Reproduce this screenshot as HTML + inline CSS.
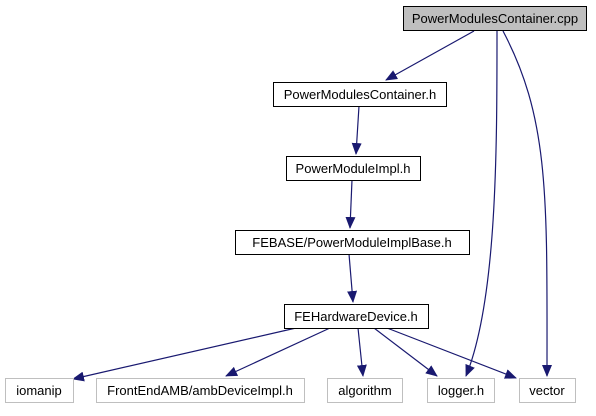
<!DOCTYPE html>
<html><head><style>
body{margin:0;background:#fff;width:596px;height:411px;overflow:hidden;font-family:"Liberation Sans",sans-serif}
</style></head><body>
<svg width="596" height="411" xmlns="http://www.w3.org/2000/svg" font-family="Liberation Sans, sans-serif" font-size="13">
<defs><marker id="a" markerWidth="12" markerHeight="10" refX="11" refY="5" orient="auto" markerUnits="userSpaceOnUse"><path d="M0,0L12,5L0,10z" fill="#191970"/></marker></defs>
<g fill="none" stroke="#191970" stroke-width="1.2">
<path d="M474,31 L386,80" marker-end="url(#a)"/>
<path d="M359,106 L356,154" marker-end="url(#a)"/>
<path d="M352,180 L350,228" marker-end="url(#a)"/>
<path d="M349,254 L353,302" marker-end="url(#a)"/>
<path d="M296,328 L73,379" marker-end="url(#a)"/>
<path d="M330,328 L226,376" marker-end="url(#a)"/>
<path d="M358,328 L363,376" marker-end="url(#a)"/>
<path d="M374,328 L437,376" marker-end="url(#a)"/>
<path d="M387,328 L516,378" marker-end="url(#a)"/>
<path d="M497,31 C497,150 497,300 466,376" marker-end="url(#a)"/>
<path d="M503,31 C550,120 547,200 547,376" marker-end="url(#a)"/>
</g>
<g stroke-width="1" text-anchor="middle">
<rect x="403.5" y="6.5" width="183" height="24" fill="#bfbfbf" stroke="#000"/><text x="495" y="23">PowerModulesContainer.cpp</text>
<rect x="273.5" y="82.5" width="173" height="24" fill="#fff" stroke="#000"/><text x="360" y="99">PowerModulesContainer.h</text>
<rect x="286.5" y="156.5" width="134" height="24" fill="#fff" stroke="#000"/><text x="353" y="173">PowerModuleImpl.h</text>
<rect x="235.5" y="230.5" width="234" height="24" fill="#fff" stroke="#000"/><text x="352" y="247">FEBASE/PowerModuleImplBase.h</text>
<rect x="284.5" y="304.5" width="144" height="24" fill="#fff" stroke="#000"/><text x="356" y="321">FEHardwareDevice.h</text>
<g fill="#fff" stroke="#bfbfbf">
<rect x="5.5" y="378.5" width="68" height="24"/><rect x="96.5" y="378.5" width="208" height="24"/><rect x="327.5" y="378.5" width="75" height="24"/><rect x="427.5" y="378.5" width="67" height="24"/><rect x="519.5" y="378.5" width="56" height="24"/>
</g>
<text x="39" y="395">iomanip</text><text x="200" y="395">FrontEndAMB/ambDeviceImpl.h</text><text x="365" y="395">algorithm</text><text x="461" y="395">logger.h</text><text x="547" y="395">vector</text>
</g>
</svg>
</body></html>
